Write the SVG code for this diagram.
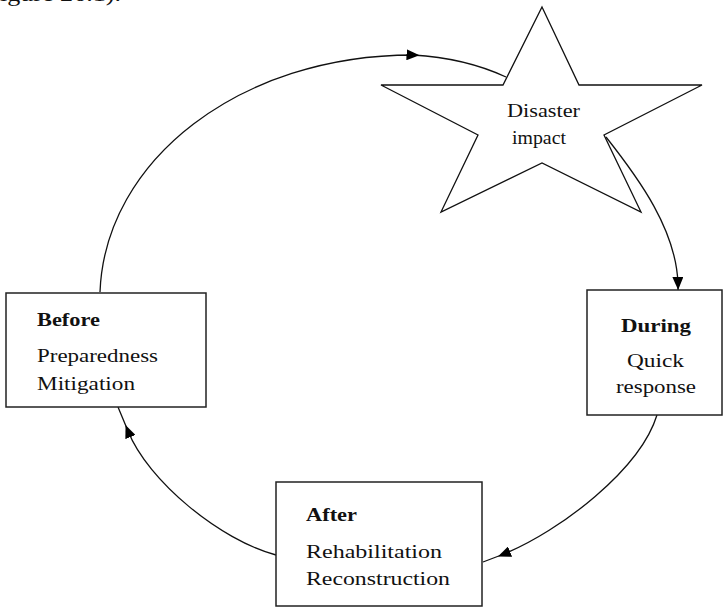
<svg xmlns="http://www.w3.org/2000/svg" width="725" height="607" viewBox="0 0 725 607">
  <defs>
    <marker id="arrow" viewBox="0 0 13 11" refX="6.5" refY="5.5" markerWidth="13" markerHeight="11" markerUnits="userSpaceOnUse" orient="auto">
      <path d="M0,0 L13,5.5 L0,11 z" fill="#000"/>
    </marker>
    <style>
      .box { fill: #fff; stroke: #222; stroke-width: 1.5; }
      .star { fill: #fff; stroke: #111; stroke-width: 1.3; stroke-linejoin: miter; }
      .conn { fill: none; stroke: #111; stroke-width: 1.3; marker-mid: url(#arrow); }
      .t { font-family: "Liberation Serif", "Times New Roman", serif; font-size: 19px; fill: #111; }
      .b { font-weight: bold; }
    </style>
  </defs>
  <rect width="725" height="607" fill="#fff"/>

  <text class="t" x="0" y="1" textLength="121" lengthAdjust="spacingAndGlyphs" style="font-size:21px">igure 26.1).</text>

  <g id="connectors">
    <path class="conn" d="M100,292 C105,160 240,55 413,55 Q465,58 506,77"/>
    <path class="conn" d="M606,137 C640,180 676,230 678,283.5 L678,290"/>
    <path class="conn" d="M657,415 C640,470 560,531 504,554 L483,562"/>
    <path class="conn" d="M276,555 C220,540 148,481 128,431 L118,407"/>
  </g>

  <g id="disaster">
    <polygon class="star" points="542,7 579,85 702,85 604,135 641,212 542,163 441,212 478,135 381,85 503,85"/>
    <text class="t" x="507" y="117" textLength="73" lengthAdjust="spacingAndGlyphs">Disaster</text>
    <text class="t" x="512" y="144" textLength="54" lengthAdjust="spacingAndGlyphs">impact</text>
  </g>

  <g id="before">
    <rect class="box" x="6" y="293" width="200" height="114"/>
    <text class="t b" x="37" y="326" textLength="63" lengthAdjust="spacingAndGlyphs">Before</text>
    <text class="t" x="37" y="362" textLength="121" lengthAdjust="spacingAndGlyphs">Preparedness</text>
    <text class="t" x="37" y="390" textLength="98" lengthAdjust="spacingAndGlyphs">Mitigation</text>
  </g>

  <g id="during">
    <rect class="box" x="587" y="290" width="135" height="125"/>
    <text class="t b" x="621" y="332" textLength="70" lengthAdjust="spacingAndGlyphs">During</text>
    <text class="t" x="627" y="367" textLength="57" lengthAdjust="spacingAndGlyphs">Quick</text>
    <text class="t" x="616" y="393" textLength="80" lengthAdjust="spacingAndGlyphs">response</text>
  </g>

  <g id="after">
    <rect class="box" x="276" y="482" width="206" height="124"/>
    <text class="t b" x="306" y="521" textLength="51" lengthAdjust="spacingAndGlyphs">After</text>
    <text class="t" x="306" y="558" textLength="136" lengthAdjust="spacingAndGlyphs">Rehabilitation</text>
    <text class="t" x="306" y="585" textLength="144" lengthAdjust="spacingAndGlyphs">Reconstruction</text>
  </g>
</svg>
